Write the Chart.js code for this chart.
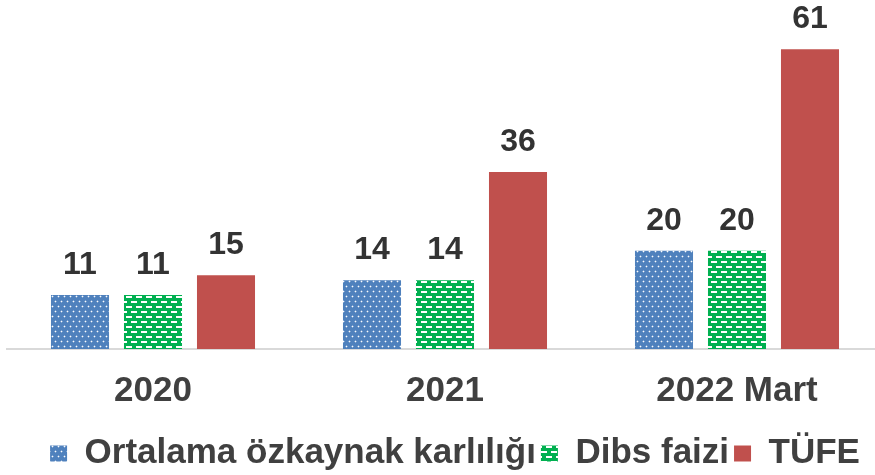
<!DOCTYPE html>
<html>
<head>
<meta charset="utf-8">
<script src="https://cdn.jsdelivr.net/npm/chart.js@4"></script>
<style>
  body { margin: 0; background: #fff; }
  #wrap { width: 875px; height: 475px; overflow: hidden; }
  #kutu { width: 883px; height: 475px; }
</style>
</head>
<body>
<div id="wrap"><div id="kutu"><canvas id="grafik"></canvas></div></div>
<script>
const kategoriler = ['2020', '2021', '2022 Mart'];
const ozkaynak = [11, 14, 20];
const dibs = [11, 14, 20];
const tufe = [15, 36, 61];

const YAZI = '"Liberation Sans", Arial, sans-serif';

// noktali mavi desen
function maviDesen() {
  const c = document.createElement('canvas');
  c.width = 6; c.height = 10;
  const x = c.getContext('2d');
  x.fillStyle = '#4F81BD';
  x.fillRect(0, 0, 6, 10);
  x.fillStyle = 'rgba(255,255,255,0.3)';
  x.fillRect(0, 1, 3, 1);
  x.fillRect(1, 0, 1, 3);
  x.fillRect(3, 6, 3, 1);
  x.fillRect(4, 5, 1, 3);
  x.fillStyle = 'rgba(255,255,255,0.95)';
  x.fillRect(1, 1, 1, 1);
  x.fillRect(4, 6, 1, 1);
  return x.createPattern(c, 'repeat');
}

// tugla seklinde yesil desen
function yesilDesen() {
  const c = document.createElement('canvas');
  c.width = 10; c.height = 10;
  const x = c.getContext('2d');
  x.fillStyle = '#00B050';
  x.fillRect(0, 0, 10, 10);
  x.fillStyle = '#ffffff';
  x.fillRect(1, 1, 6, 2);
  x.fillRect(6, 6, 4, 2);
  x.fillRect(0, 6, 2, 2);
  return x.createPattern(c, 'repeat');
}

const degerEtiketleri = {
  id: 'degerEtiketleri',
  afterDatasetsDraw(chart) {
    const ctx = chart.ctx;
    ctx.save();
    ctx.font = 'bold 32px ' + YAZI;
    ctx.fillStyle = '#333333';
    ctx.textAlign = 'center';
    ctx.textBaseline = 'middle';
    chart.data.datasets.forEach((ds, i) => {
      chart.getDatasetMeta(i).data.forEach((bar, j) => {
        ctx.fillText(ds.data[j], bar.x, bar.y - 30);
      });
    });
    ctx.restore();
  }
};

// lejanti biraz saga ve asagi kaydir
const lejantKaydir = {
  id: 'lejantKaydir',
  afterLayout(chart) {
    chart.legend.left += 10;
    chart.legend.right += 10;
    chart.legend.top += 6;
    chart.legend.bottom += 6;
  }
};

new Chart(document.getElementById('grafik'), {
  type: 'bar',
  data: {
    labels: kategoriler,
    datasets: [
      { label: 'Ortalama özkaynak karlılığı', data: ozkaynak, backgroundColor: maviDesen() },
      { label: 'Dibs faizi', data: dibs, backgroundColor: yesilDesen() },
      { label: 'TÜFE', data: tufe, backgroundColor: '#C0504D' }
    ]
  },
  options: {
    responsive: true,
    maintainAspectRatio: false,
    animation: false,
    categoryPercentage: 0.75,
    barPercentage: 0.795,
    layout: { padding: { left: 7, right: 0, top: 0, bottom: 0 } },
    scales: {
      x: {
        grid: { display: false },
        border: { color: '#d9d9d9', width: 2 },
        ticks: {
          color: '#404040',
          padding: 13,
          font: { family: YAZI, size: 35, weight: 'bold' }
        }
      },
      y: { display: false, min: 0, max: 71 }
    },
    plugins: {
      tooltip: { enabled: false },
      legend: {
        position: 'bottom',
        labels: {
          color: '#404040',
          boxWidth: 17,
          boxHeight: 16,
          padding: 5,
          font: { family: YAZI, size: 35, weight: 'bold' }
        }
      }
    }
  },
  plugins: [degerEtiketleri, lejantKaydir]
});
</script>
</body>
</html>
